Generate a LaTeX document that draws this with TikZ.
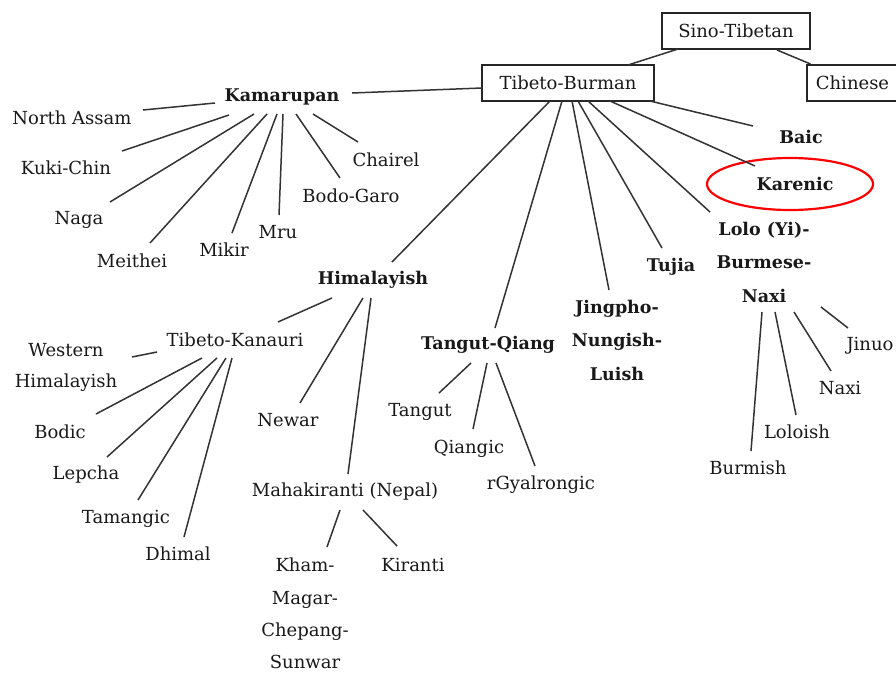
\documentclass[tikz,border=0pt]{standalone}
\usepackage{fontspec}
\setmainfont{DejaVu Serif}
\newcommand\lnk[4]{\draw[conn] ([shift={(#2)}]#1.center) -- ([shift={(#4)}]#3.center);}
\begin{document}
\begin{tikzpicture}[x=1pt,y=-1pt,
  lab/.style={inner sep=0pt, font=\fontsize{18}{33}\selectfont, align=center, text=black!90},
  blab/.style={lab, font=\fontsize{17.5}{33.5}\selectfont\bfseries},
  boxed/.style={lab, draw=black!85, line width=1.6pt, minimum height=36pt},
  conn/.style={draw=black!80, line width=1.5pt}]
\useasboundingbox (0,0) rectangle (896,673);
\fill[white] (0,0) rectangle (896,673);
% boxes
\node[boxed, minimum width=148pt] (st) at (736,31) {Sino-Tibetan};
\node[boxed, minimum width=91pt] (ch) at (852.5,83) {Chinese};
\node[boxed, minimum width=172pt] (tb) at (568,83) {Tibeto-Burman};
% Kamarupan
\node[blab] (kam) at (282,97) {Kamarupan};
\node[lab] (nas) at (72,118) {North Assam};
\node[lab] (kuki) at (66,168) {Kuki-Chin};
\node[lab] (naga) at (79,220) {Naga};
\node[lab] (mei) at (132,261) {Meithei};
\node[lab] (mik) at (224,250) {Mikir};
\node[lab] (mru) at (278,232) {Mru};
\node[lab] (bodo) at (351,196) {Bodo-Garo};
\node[lab] (chai) at (386,160) {Chairel};
% right branches
\node[blab] (baic) at (801,137) {Baic};
\node[blab] (kar) at (795,184) {Karenic};
\draw[red, line width=2.2pt] ([xshift=-5pt]kar.center) ellipse [x radius=83, y radius=26];
\node[blab] (lolo) at (764,262) {Lolo (Yi)-\\Burmese-\\Naxi};
\node[blab] (tuj) at (671,267) {Tujia};
\node[blab] (jing) at (617,340) {Jingpho-\\Nungish-\\Luish};
\node[blab] (tq) at (488,345) {Tangut-Qiang};
\node[blab] (him) at (373,280) {Himalayish};
% Himalayish
\node[lab] (tk) at (235,340) {Tibeto-Kanauri};
\node[lab] (newar) at (288,420) {Newar};
\node[lab] (maha) at (345,492) {Mahakiranti (Nepal)};
\node[lab, font=\fontsize{18}{31}\selectfont] (wh) at (66,367.5) {Western\\Himalayish};
\node[lab] (bodic) at (60,432) {Bodic};
\node[lab] (lep) at (86,475) {Lepcha};
\node[lab] (tam) at (126,519) {Tamangic};
\node[lab] (dhi) at (178,554) {Dhimal};
\node[lab, font=\fontsize{18}{32.3}\selectfont] (kham) at (305,613.5) {Kham-\\Magar-\\Chepang-\\Sunwar};
\node[lab] (kir) at (413,565) {Kiranti};
% Tangut-Qiang
\node[lab] (tang) at (420,412) {Tangut};
\node[lab] (qia) at (469,449) {Qiangic};
\node[lab] (rgy) at (541,485) {rGyalrongic};
% Lolo
\node[lab] (bur) at (748,468) {Burmish};
\node[lab] (loloish) at (797,432) {Loloish};
\node[lab] (naxi) at (840,388) {Naxi};
\node[lab] (jin) at (870,346) {Jinuo};
% connectors
\lnk{tb}{60,-18}{st}{-58,18}
\lnk{st}{41,19}{ch}{-42,-19}
\lnk{tb}{-86,5}{kam}{70,-4}
\lnk{kam}{-67,6}{nas}{71,-8}
\lnk{kam}{-53,18}{kuki}{56,-17}
\lnk{kam}{-28,17}{naga}{31,-18}
\lnk{kam}{-15,17}{mei}{18,-18}
\lnk{kam}{-5,17}{mik}{8,-17}
\lnk{kam}{1,17}{mru}{1,-17}
\lnk{kam}{14,17}{bodo}{-11,-18}
\lnk{kam}{31,17}{chai}{-28,-18}
\lnk{tb}{82,18}{baic}{-48,-11}
\lnk{tb}{42,18}{kar}{-40,-18}
\lnk{tb}{20,18}{lolo}{-54,-50}
\lnk{tb}{10,18}{tuj}{-9,-19}
\lnk{tb}{4,18}{jing}{-8,-50}
\lnk{tb}{-6,18}{tq}{7,-17}
\lnk{tb}{-18,18}{him}{19,-18}
\lnk{him}{-41,18}{tk}{43,-18}
\lnk{him}{-10,18}{newar}{12,-17}
\lnk{him}{-2,18}{maha}{3,-18}
\lnk{tk}{-78,12}{wh}{66,-10.5}
\lnk{tk}{-33,18}{bodic}{36,-18}
\lnk{tk}{-18,18}{lep}{21,-18}
\lnk{tk}{-9,18}{tam}{12,-19}
\lnk{tk}{-3,18}{dhi}{6,-17}
\lnk{maha}{-5,18}{kham}{22,-66.5}
\lnk{maha}{18,18}{kir}{-16,-19}
\lnk{tq}{-17,18}{tang}{19,-19}
\lnk{tq}{-1,18}{qia}{4,-20}
\lnk{tq}{8,18}{rgy}{-6,-19}
\lnk{lolo}{-2,50}{bur}{3,-17}
\lnk{lolo}{11,50}{loloish}{-1,-17}
\lnk{lolo}{30,50}{naxi}{-9,-17}
\lnk{lolo}{57,45}{jin}{-22,-18}
\end{tikzpicture}
\end{document}
